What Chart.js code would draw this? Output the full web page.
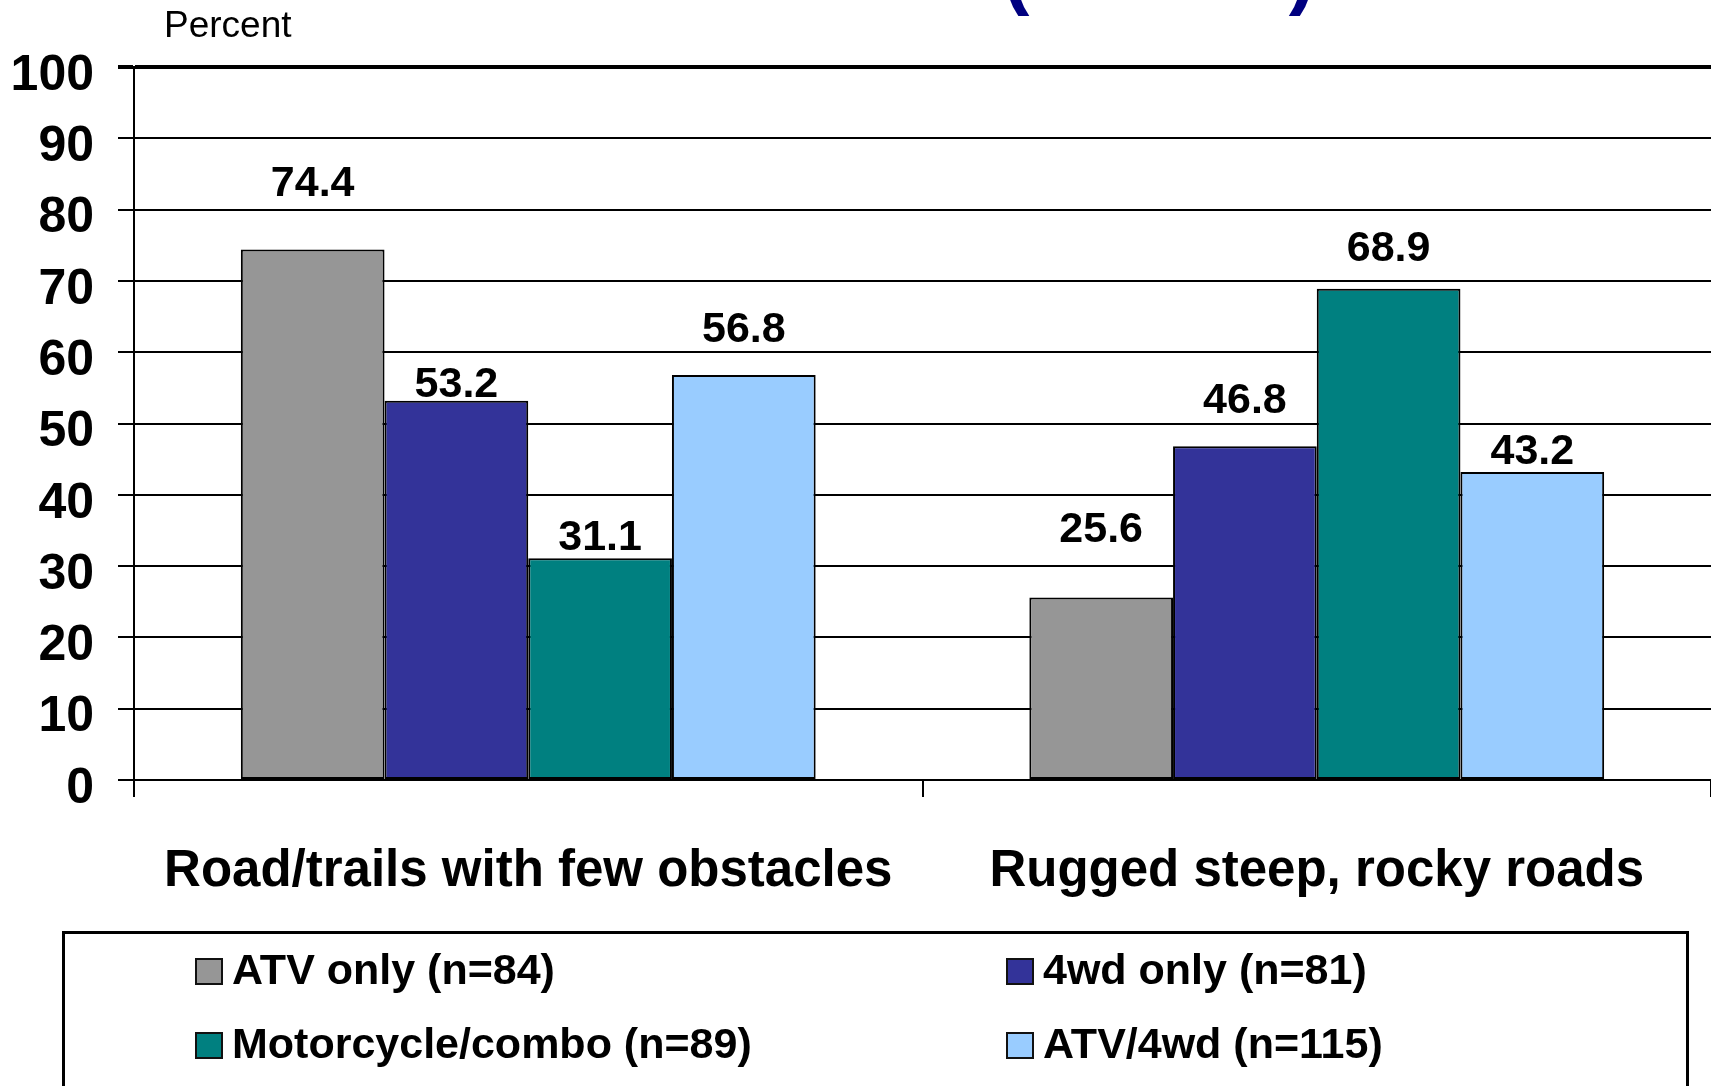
<!DOCTYPE html>
<html>
<head>
<meta charset="utf-8">
<script src="https://cdn.jsdelivr.net/npm/chart.js@4"></script>
<style>
  html, body { margin: 0; padding: 0; background: #fff; overflow: hidden; }
  #wrapper { position: relative; width: 1711px; height: 1086px; overflow: hidden; }
  #grafico { position: absolute; left: 0; top: 0; }
  #legenda {
    position: absolute; left: 62px; top: 931px; width: 1621px; height: 220px;
    border: 3px solid #000; box-sizing: content-box;
  }
  .voce { position: absolute; font: bold 43px "Liberation Sans", Arial, sans-serif; line-height: 43px; white-space: nowrap; color: #000; }
  .voce span.box { position: absolute; left: -37px; top: 10px; width: 24px; height: 23px; border: 2px solid #111; }
</style>
</head>
<body>
<div id="wrapper">
  <canvas id="grafico" width="1711" height="1086"></canvas>
  <div id="legenda"></div>
</div>
<script>
"use strict";
// dati
const categorie = ["Road/trails with few obstacles", "Rugged steep, rocky roads"];
const nomiSerie = ["ATV only (n=84)", "4wd only (n=81)", "Motorcycle/combo (n=89)", "ATV/4wd (n=115)"];
const atvOnly = [74.4, 25.6];
const wdOnly = [53.2, 46.8];
const motoCombo = [31.1, 68.9];
const atvWd = [56.8, 43.2];
const tickY = [0, 10, 20, 30, 40, 50, 60, 70, 80, 90, 100];

const colori = ["#969696", "#333399", "#008080", "#99CCFF"];
const FONT = '"Liberation Sans", Arial, sans-serif';

// distanza etichetta-barra (px), come nell'originale
const alzata = [[54, 55], [4, 33], [8, 28], [33, 8]];

const etichette = {
  id: "etichette",
  afterDatasetsDraw(chart) {
    const ctx = chart.ctx;
    ctx.save();
    ctx.fillStyle = "#000";
    ctx.font = "bold 43px " + FONT;
    ctx.textAlign = "center";
    ctx.textBaseline = "alphabetic";
    chart.data.datasets.forEach(function (ds, d) {
      chart.getDatasetMeta(d).data.forEach(function (bar, i) {
        ctx.fillText(ds.data[i].toFixed(1), bar.x, bar.y - alzata[d][i]);
      });
    });
    ctx.restore();
  }
};

const testi = {
  id: "testi",
  afterDraw(chart) {
    const ctx = chart.ctx;
    ctx.save();
    ctx.fillStyle = "#000";
    ctx.font = "37px " + FONT;
    ctx.textAlign = "left";
    ctx.textBaseline = "alphabetic";
    ctx.fillText("Percent", 164, 37);
    // resto del titolo tagliato in alto
    ctx.fillStyle = "#000080";
    ctx.font = "bold 80px " + FONT;
    ctx.textAlign = "center";
    ctx.fillText("(", 1016, -1);
    ctx.fillText(")", 1302, -1);
    ctx.restore();
  }
};

let serie = [atvOnly, wdOnly, motoCombo, atvWd];
let datasets = [];
for (let k = 0; k < serie.length; k++) {
  datasets.push({
    label: nomiSerie[k],
    data: serie[k],
    backgroundColor: colori[k],
    borderColor: "#000",
    borderWidth: 2,
    borderSkipped: false,
    barPercentage: 1.0,
    categoryPercentage: 0.729
  });
}

let chart = new Chart(document.getElementById("grafico"), {
  type: "bar",
  data: { labels: categorie, datasets: datasets },
  options: {
    responsive: false,
    animation: false,
    events: [],
    layout: { padding: { top: 67, left: 0, right: 0, bottom: 0 } },
    plugins: { legend: { display: false }, tooltip: { enabled: false } },
    scales: {
      x: {
        afterFit: function (s) { s.height = 306; },
        grid: { drawOnChartArea: false, drawTicks: true, tickLength: 17, color: "#000", lineWidth: 2 },
        border: { display: true, color: "#000", width: 2 },
        ticks: { color: "#000", font: { family: FONT, size: 51, weight: "bold" }, padding: 44, maxRotation: 0, autoSkip: false }
      },
      y: {
        min: 0,
        max: 100,
        afterFit: function (s) { s.width = 134; },
        afterBuildTicks: function (s) { s.ticks = tickY.map(function (v) { return { value: v }; }); },
        grid: {
          color: "#000",
          lineWidth: function (c) { return c.tick && c.tick.value === 100 ? 4 : 2; },
          tickLength: 16
        },
        border: { display: true, color: "#000", width: 2 },
        ticks: { color: "#000", font: { family: FONT, size: 50, weight: "bold" }, padding: 24, labelOffset: 9 }
      }
    }
  },
  plugins: [etichette, testi]
});

// legenda html: due colonne, due righe
let leg = document.getElementById("legenda");
const posX = [167, 978];
const posY = [14, 88];
for (let k = 0; k < nomiSerie.length; k++) {
  let div = document.createElement("div");
  div.className = "voce";
  div.style.left = posX[k % 2] + "px";
  div.style.top = posY[Math.floor(k / 2)] + "px";
  let box = document.createElement("span");
  box.className = "box";
  box.style.background = colori[k];
  div.appendChild(box);
  div.appendChild(document.createTextNode(nomiSerie[k]));
  leg.appendChild(div);
}
</script>
</body>
</html>
